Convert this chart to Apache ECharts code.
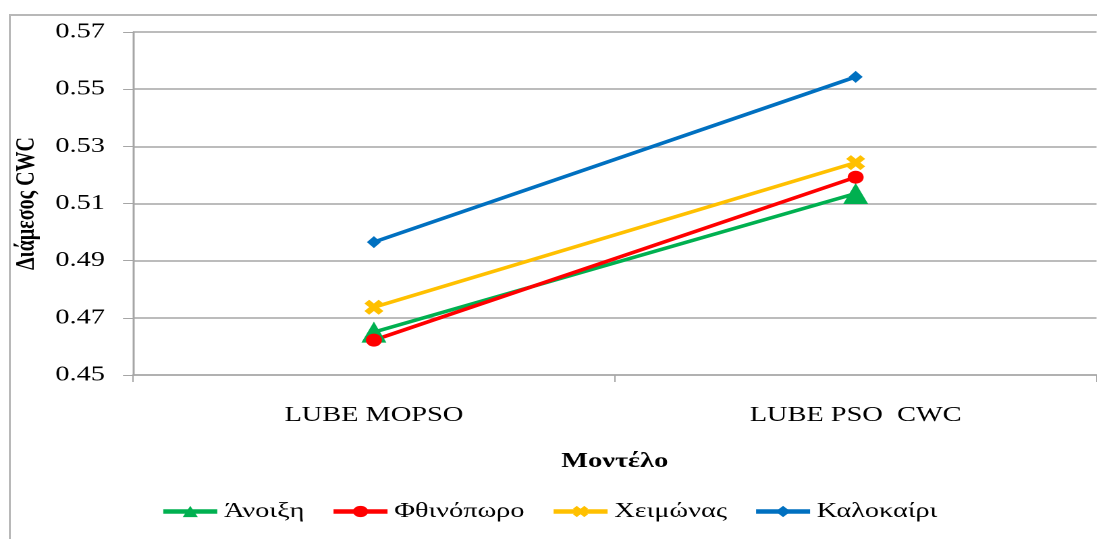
<!DOCTYPE html>
<html>
<head>
<meta charset="utf-8">
<script src="https://cdn.jsdelivr.net/npm/echarts@6/dist/echarts.min.js"></script>
<style>
  html, body { margin: 0; padding: 0; background: #fff; overflow: hidden; }
  #frame { position: absolute; left: 9px; top: 14px; width: 1100px; height: 540px; border: 2px solid #b8b8b8; }
  /* the original picture is a horizontally stretched excel chart */
  #chart { position: absolute; left: 0; top: 0; width: 813px; height: 539px; transform: scaleX(1.35); transform-origin: 0 0; }
</style>
</head>
<body>
<div id="frame"></div>
<div id="chart"></div>
<script>
const STRETCH = 1.35;
const categories = ['LUBE MOPSO', 'LUBE PSO  CWC'];
const seasonNames = ['Άνοιξη', 'Φθινόπωρο', 'Χειμώνας', 'Καλοκαίρι'];
const anoixi = [0.465, 0.5135];
const fthinoporo = [0.4622, 0.5192];
const xeimonas = [0.4737, 0.5243];
const kalokairi = [0.4965, 0.5543];

const FONT = "'Liberation Serif', 'Times New Roman', serif";
// excel-like fat "X" marker
const xMarker = 'path://M2.5,0 L5,2.5 L7.5,0 L10,2.5 L7.5,5 L10,7.5 L7.5,10 L5,7.5 L2.5,10 L0,7.5 L2.5,5 L0,2.5 Z';

function mkSeries(name, data, color, symbol, size) {
    return {
        name: name,
        type: 'line',
        data: data,
        symbol: symbol,
        symbolSize: size,
        showAllSymbol: true,
        lineStyle: { color: color, width: 3.5 },
        itemStyle: { color: color },
        emphasis: { disabled: true },
        z: 3
    };
}

// px in the final (stretched) picture -> px inside the chart
const sx = v => v / STRETCH;

const myChart = echarts.init(document.getElementById('chart'), null, { devicePixelRatio: 2 });

const option = {
    animation: false,
    textStyle: { fontFamily: FONT },
    grid: { left: sx(133), right: sx(1), top: 32, bottom: 164, containLabel: false },
    legend: {
        bottom: 12,
        left: 'center',
        itemWidth: sx(54),
        itemHeight: 14,
        itemGap: sx(26),
        lineStyle: { width: 4.5 },
        textStyle: { fontFamily: FONT, fontSize: 21, color: '#000' },
        data: seasonNames
    },
    xAxis: {
        type: 'category',
        data: categories,
        boundaryGap: true,
        name: 'Μοντέλο',
        nameLocation: 'middle',
        nameGap: 76,
        nameTextStyle: { fontFamily: FONT, fontSize: 21, fontWeight: 'bold', color: '#000' },
        axisLine: { lineStyle: { color: '#a6a6a6', width: 1.5 } },
        axisTick: { show: true, length: 7, lineStyle: { color: '#a6a6a6' } },
        axisLabel: { fontFamily: FONT, fontSize: 21, color: '#000', margin: 30 }
    },
    yAxis: {
        type: 'value',
        min: 0.45,
        max: 0.57,
        interval: 0.02,
        name: 'Διάμεσος CWC',
        nameLocation: 'middle',
        nameGap: sx(93),
        nameRotate: 90,
        nameTextStyle: { fontFamily: FONT, fontSize: 20, fontWeight: 'bold', color: '#000' },
        axisLine: { show: true, lineStyle: { color: '#a6a6a6', width: 1.5 } },
        axisTick: { show: true, length: sx(10), lineStyle: { color: '#a6a6a6' } },
        axisLabel: {
            fontFamily: FONT, fontSize: 21, color: '#000', margin: sx(28),
            formatter: v => v.toFixed(2)
        },
        splitLine: { show: true, lineStyle: { color: '#a6a6a6', width: 1.5 } }
    },
    series: [
        mkSeries(seasonNames[0], anoixi, '#00b050', 'triangle', [sx(25), 21]),
        mkSeries(seasonNames[1], fthinoporo, '#ff0000', 'circle', [sx(16), 13]),
        mkSeries(seasonNames[2], xeimonas, '#ffc000', xMarker, [sx(19), 15]),
        mkSeries(seasonNames[3], kalokairi, '#0070c0', 'diamond', [sx(14), 12])
    ]
};

myChart.setOption(option);
</script>
</body>
</html>
